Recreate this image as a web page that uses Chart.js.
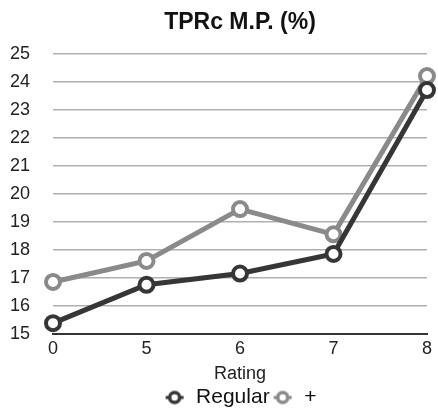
<!DOCTYPE html>
<html lang="en">
<head>
    <meta charset="UTF-8">
    <title>TPRc M.P. (%)</title>
    <style>
        body {
            margin: 0;
            padding: 0;
            background-color: #fff;
        }
        .chart-container {
            width: 438px;
            height: 412px;
        }
    </style>
</head>
<body>
    <div class="chart-container">
        <canvas id="tprcChart"></canvas>
    </div>

    <script src="https://cdn.jsdelivr.net/npm/chart.js"></script>
    <script>
        const ratings = ['0', '5', '6', '7', '8'];
        const regularValues = [15.38, 16.75, 17.15, 17.85, 23.7];
        const plusValues = [16.85, 17.6, 19.45, 18.55, 24.2];
        const yTicks = [15, 16, 17, 18, 19, 20, 21, 22, 23, 24, 25];

        const seriesColors = ['#363636', '#8a8a8a'];
        const fontFamily = 'Arial, "Liberation Sans", Helvetica, sans-serif';

        // small line-through-circle icon used in the legend
        function legendIcon(color) {
            const c = document.createElement('canvas');
            c.width = 22;
            c.height = 16;
            const g = c.getContext('2d');
            g.strokeStyle = color;
            g.lineWidth = 3;
            g.beginPath();
            g.moveTo(2, 8);
            g.lineTo(20, 8);
            g.stroke();
            g.beginPath();
            g.arc(11, 8, 5, 0, Math.PI * 2);
            g.fillStyle = '#fff';
            g.fill();
            g.lineWidth = 3.5;
            g.stroke();
            return c;
        }

        function makeDataset(label, data, color) {
            return {
                label: label,
                data: data,
                borderColor: color,
                backgroundColor: '#fff',
                borderWidth: 5,
                pointRadius: 7,
                pointBorderWidth: 4,
                pointBackgroundColor: '#fff',
                pointBorderColor: color,
                tension: 0,
                fill: false
            };
        }

        const ctx = document.getElementById('tprcChart').getContext('2d');
        new Chart(ctx, {
            type: 'line',
            data: {
                labels: ratings,
                datasets: [
                    makeDataset('Regular', regularValues, seriesColors[0]),
                    makeDataset('+', plusValues, seriesColors[1])
                ]
            },
            options: {
                responsive: true,
                maintainAspectRatio: false,
                animation: false,
                layout: {
                    padding: { left: 10, right: 10, top: 4, bottom: -6 }
                },
                plugins: {
                    title: {
                        display: true,
                        fullSize: false,
                        text: 'TPRc M.P. (%)',
                        color: '#111',
                        font: { family: fontFamily, size: 23, weight: 'bold' },
                        padding: { top: 5, bottom: 17 }
                    },
                    legend: {
                        position: 'bottom',
                        fullSize: false,
                        labels: {
                            usePointStyle: true,
                            pointStyleWidth: 22,
                            color: '#111',
                            padding: 2,
                            font: { family: fontFamily, size: 21 },
                            generateLabels: chart => {
                                const items = Chart.defaults.plugins.legend.labels.generateLabels(chart);
                                items.forEach((item, i) => {
                                    item.pointStyle = legendIcon(seriesColors[i]);
                                });
                                return items;
                            }
                        }
                    },
                    tooltip: { enabled: false }
                },
                scales: {
                    x: {
                        offset: false,
                        grid: { display: false, drawTicks: false },
                        border: { display: true, color: '#333', width: 2 },
                        ticks: {
                            color: '#222',
                            padding: 4,
                            font: { family: fontFamily, size: 18 }
                        },
                        title: {
                            display: true,
                            text: 'Rating',
                            color: '#222',
                            padding: { top: 0, bottom: 0 },
                            font: { family: fontFamily, size: 18 }
                        }
                    },
                    y: {
                        min: yTicks[0],
                        max: yTicks[yTicks.length - 1],
                        afterBuildTicks: axis => {
                            axis.ticks = yTicks.map(v => ({ value: v }));
                        },
                        afterFit: axis => {
                            axis.width = 43;
                        },
                        grid: {
                            color: '#b0b0b0',
                            lineWidth: 1.5,
                            drawTicks: false
                        },
                        border: { display: false },
                        ticks: {
                            color: '#222',
                            padding: 23,
                            font: { family: fontFamily, size: 18 }
                        }
                    }
                }
            }
        });
    </script>
</body>
</html>
